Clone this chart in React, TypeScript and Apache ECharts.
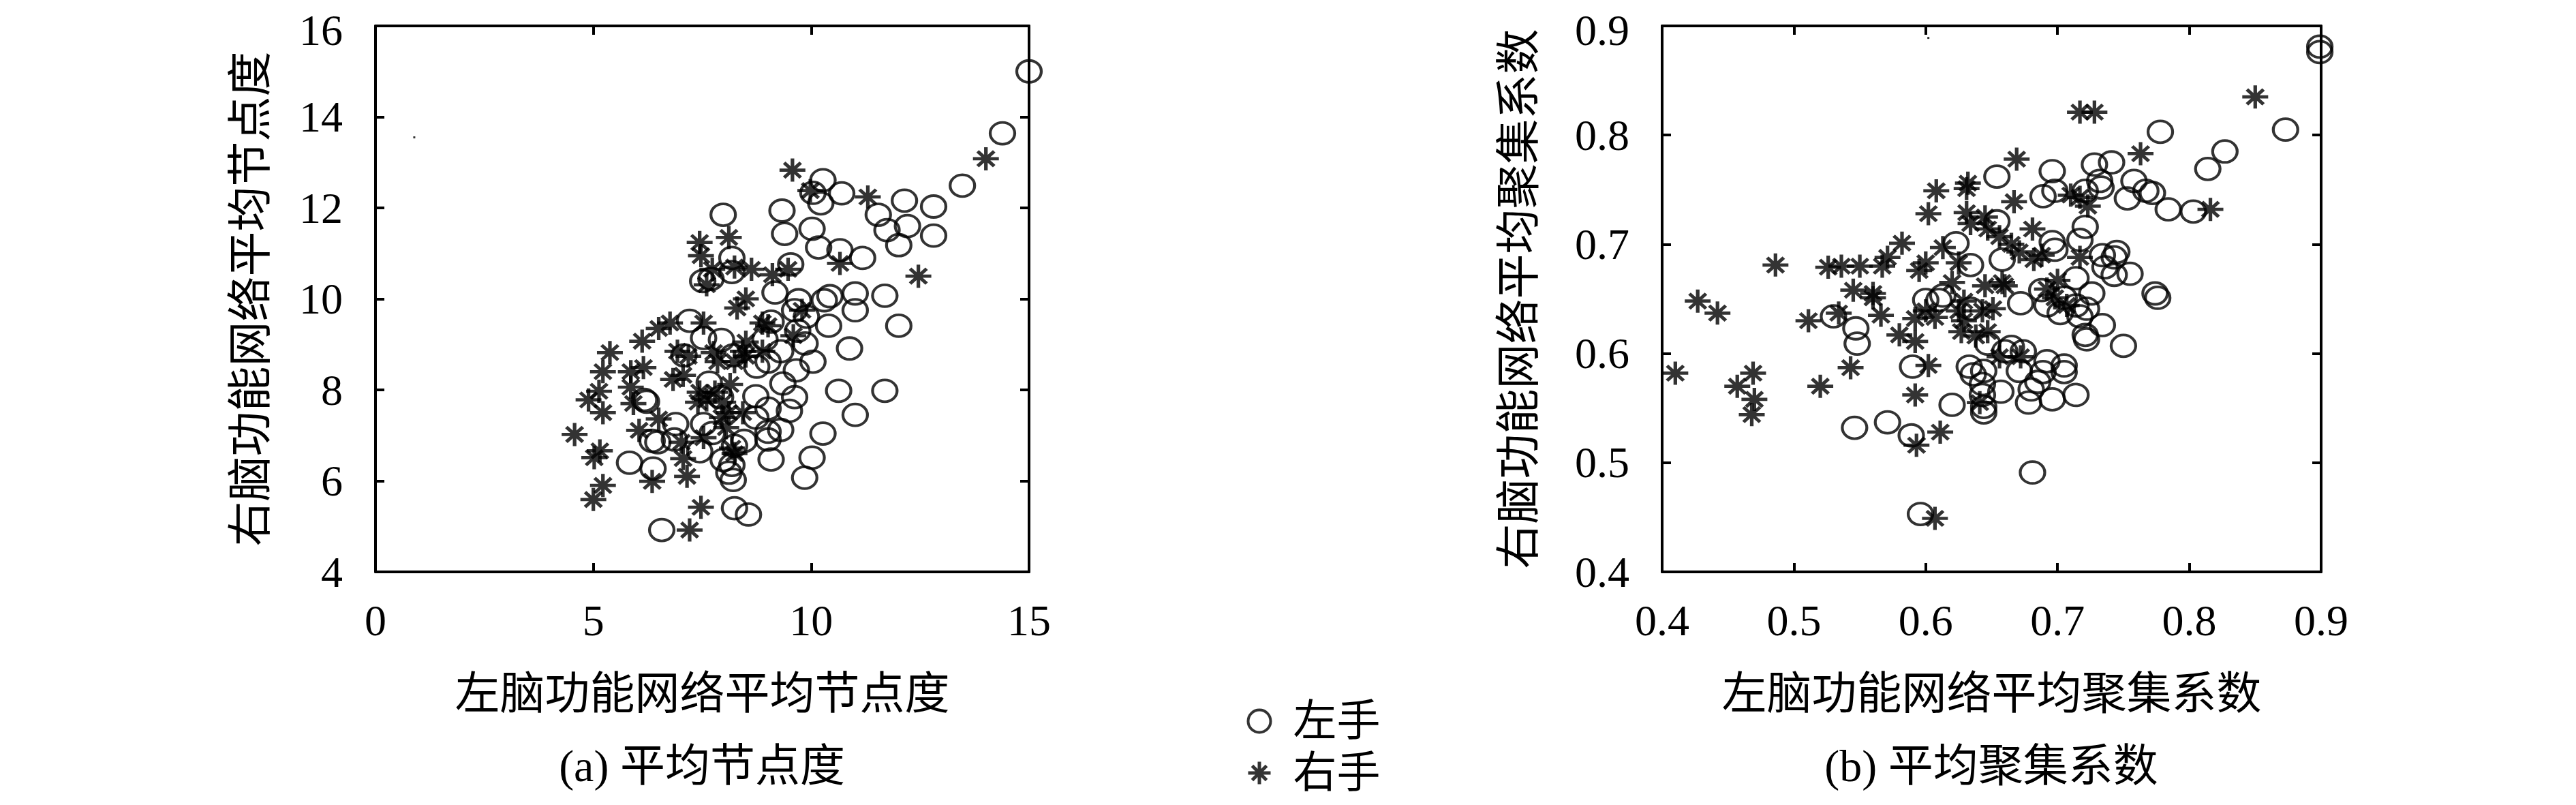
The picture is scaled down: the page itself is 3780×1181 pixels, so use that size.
import React, { useEffect, useRef } from "react";
import * as echarts from "echarts";

// ---- Data: (a) average node degree ----
const degreeLeftHand: number[][] = [
  [15.0, 15.0], [14.39, 13.64], [13.47, 12.49], [12.81, 12.03], [12.81, 11.39], [12.14, 12.16],
  [12.21, 11.6], [11.54, 11.85], [11.74, 11.51], [12.01, 11.18], [12.01, 9.41], [11.69, 10.07],
  [11.69, 7.98], [11.01, 10.12], [11.01, 9.75], [11.18, 10.9], [10.66, 11.07], [10.7, 12.32],
  [10.27, 12.61], [10.04, 12.33], [10.22, 12.1], [10.02, 11.54], [10.17, 11.13], [9.33, 11.94],
  [9.39, 11.43], [9.53, 10.76], [9.17, 10.14], [9.71, 9.97], [10.3, 9.97], [10.43, 10.06],
  [10.4, 9.41], [10.88, 8.91], [10.63, 7.98], [11.01, 7.45], [10.27, 7.04], [10.02, 6.51],
  [9.85, 6.07], [9.08, 6.47], [9.62, 9.75], [9.89, 9.61], [9.69, 9.3], [9.86, 9.02],
  [10.04, 8.62], [9.66, 8.43], [9.35, 8.14], [9.62, 7.84], [9.5, 7.54], [9.3, 7.12],
  [9.01, 7.59], [9.01, 7.08], [9.01, 6.91], [9.08, 9.5], [8.94, 9.11], [9.01, 8.62],
  [8.75, 8.51], [9.3, 8.85], [8.73, 7.86], [8.73, 7.39], [8.46, 6.88], [8.24, 6.77],
  [8.18, 6.35], [8.11, 6.18], [8.21, 6.02], [7.98, 6.46], [8.24, 5.4], [8.56, 5.26],
  [6.57, 4.92], [6.37, 6.27], [5.83, 6.4], [6.35, 6.88], [6.48, 6.85], [6.89, 7.25],
  [6.86, 6.91], [7.44, 6.65], [7.53, 7.25], [7.66, 8.16], [7.53, 9.14], [7.21, 9.52],
  [7.08, 8.76], [7.94, 9.1], [7.98, 11.85], [8.18, 10.9], [8.18, 10.59], [7.51, 10.39],
  [7.7, 10.44], [8.21, 8.76], [6.17, 7.78], [6.22, 7.74], [7.92, 7.84], [7.73, 7.05],
];
const degreeRightHand: number[][] = [
  [14.01, 13.08], [12.46, 10.5], [11.3, 12.24], [10.66, 10.78], [9.57, 12.83], [9.98, 12.38],
  [9.11, 10.53], [9.47, 10.65], [8.11, 11.35], [7.44, 11.24], [7.47, 10.95], [7.73, 10.65],
  [7.6, 10.31], [8.24, 10.7], [8.63, 10.65], [8.5, 10.0], [8.3, 9.8], [8.88, 9.47],
  [9.01, 9.41], [9.79, 9.75], [9.59, 9.19], [8.5, 9.05], [8.5, 8.74], [8.88, 8.85],
  [8.24, 8.62], [7.85, 8.62], [7.76, 8.82], [7.53, 9.47], [7.18, 8.74], [6.93, 8.85],
  [6.76, 9.47], [6.5, 9.35], [6.12, 9.07], [6.15, 8.49], [5.86, 8.4], [5.38, 8.82],
  [5.22, 8.4], [5.13, 7.97], [4.89, 7.78], [5.22, 7.5], [4.57, 7.02], [5.15, 6.66],
  [5.02, 6.51], [5.22, 5.9], [5.0, 5.59], [5.86, 8.06], [5.92, 7.7], [6.05, 7.11],
  [6.35, 5.99], [6.5, 7.36], [6.83, 8.23], [7.06, 8.32], [7.02, 6.85], [7.06, 6.49],
  [7.15, 6.1], [7.21, 4.92], [7.47, 5.42], [7.4, 7.73], [7.44, 7.95], [7.6, 7.78],
  [7.79, 7.95], [7.98, 7.73], [8.14, 8.12], [8.05, 7.17], [7.95, 7.39], [7.53, 6.95],
  [8.18, 6.72], [8.24, 6.6], [8.43, 7.5], [8.11, 7.5], [8.43, 8.85],
];
const degreeStray: number[][] = [[0.89, 13.55]];

// ---- Data: (b) average clustering coefficient ----
const clusterLeftHand: number[][] = [
  [0.899, 0.881], [0.899, 0.876], [0.873, 0.805], [0.827, 0.785], [0.814, 0.769], [0.803, 0.73],
  [0.784, 0.732], [0.778, 0.803], [0.767, 0.749], [0.772, 0.747], [0.758, 0.758], [0.753, 0.742],
  [0.741, 0.775], [0.728, 0.773], [0.732, 0.758], [0.733, 0.752], [0.721, 0.749], [0.696, 0.767],
  [0.698, 0.749], [0.689, 0.744], [0.654, 0.762], [0.654, 0.721], [0.623, 0.701], [0.634, 0.681],
  [0.658, 0.686], [0.721, 0.716], [0.717, 0.704], [0.696, 0.702], [0.698, 0.695], [0.714, 0.669],
  [0.734, 0.69], [0.745, 0.693], [0.743, 0.688], [0.736, 0.679], [0.743, 0.672], [0.755, 0.673],
  [0.774, 0.655], [0.776, 0.651], [0.726, 0.655], [0.714, 0.644], [0.705, 0.651], [0.702, 0.637],
  [0.717, 0.634], [0.722, 0.641], [0.734, 0.626], [0.721, 0.617], [0.722, 0.613], [0.75, 0.607],
  [0.705, 0.589], [0.705, 0.583], [0.692, 0.593], [0.689, 0.583], [0.685, 0.574], [0.68, 0.567],
  [0.678, 0.555], [0.696, 0.558], [0.714, 0.562], [0.671, 0.584], [0.674, 0.602], [0.665, 0.606],
  [0.66, 0.602], [0.647, 0.609], [0.672, 0.646], [0.688, 0.658], [0.692, 0.644], [0.633, 0.588],
  [0.636, 0.581], [0.644, 0.584], [0.643, 0.572], [0.643, 0.562], [0.644, 0.551], [0.644, 0.546],
  [0.657, 0.565], [0.62, 0.553], [0.589, 0.525], [0.571, 0.537], [0.546, 0.532], [0.59, 0.588],
  [0.547, 0.623], [0.548, 0.609], [0.53, 0.634], [0.6, 0.649], [0.61, 0.649], [0.613, 0.653],
  [0.681, 0.491], [0.596, 0.453], [0.634, 0.641],
];
const clusterRightHand: number[][] = [
  [0.85, 0.835], [0.816, 0.732], [0.763, 0.783], [0.717, 0.821], [0.728, 0.821], [0.669, 0.778],
  [0.667, 0.739], [0.632, 0.756], [0.631, 0.751], [0.608, 0.749], [0.602, 0.728], [0.631, 0.729],
  [0.634, 0.719], [0.645, 0.725], [0.647, 0.714], [0.656, 0.707], [0.665, 0.7], [0.671, 0.693],
  [0.681, 0.714], [0.688, 0.69], [0.682, 0.686], [0.71, 0.745], [0.717, 0.743], [0.723, 0.735],
  [0.717, 0.688], [0.7, 0.667], [0.692, 0.659], [0.698, 0.651], [0.707, 0.644], [0.613, 0.697],
  [0.625, 0.683], [0.6, 0.683], [0.595, 0.676], [0.582, 0.701], [0.571, 0.688], [0.567, 0.68],
  [0.55, 0.68], [0.536, 0.68], [0.526, 0.679], [0.545, 0.658], [0.56, 0.655], [0.56, 0.651],
  [0.566, 0.635], [0.534, 0.637], [0.511, 0.63], [0.486, 0.681], [0.427, 0.648], [0.442, 0.637],
  [0.41, 0.582], [0.457, 0.57], [0.469, 0.582], [0.47, 0.558], [0.468, 0.544], [0.52, 0.57],
  [0.543, 0.587], [0.58, 0.617], [0.592, 0.611], [0.592, 0.632], [0.6, 0.639], [0.607, 0.633],
  [0.602, 0.589], [0.592, 0.562], [0.593, 0.516], [0.611, 0.528], [0.607, 0.449], [0.625, 0.639],
  [0.629, 0.63], [0.627, 0.62], [0.638, 0.616], [0.647, 0.62], [0.643, 0.639], [0.651, 0.641],
  [0.645, 0.662], [0.658, 0.665], [0.66, 0.662], [0.629, 0.648], [0.641, 0.555], [0.656, 0.597],
  [0.672, 0.597], [0.62, 0.665],
];
const clusterStray: number[][] = [[0.602, 0.889]];

const legendNames = ["左手", "右手"];
const panelTitles = ["(a) 平均节点度", "(b) 平均聚集系数"];
const xNames = ["左脑功能网络平均节点度", "左脑功能网络平均聚集系数"];
const yNames = ["右脑功能网络平均节点度", "右脑功能网络平均聚集系数"];

const CIRCLE = "path://M0,50A50,50,0,1,1,100,50A50,50,0,1,1,0,50Z";
const STAR = "path://M0,50L100,50M50,0L50,100M18,18L82,82M82,18L18,82";

const NUM_FONT = "'Liberation Serif', 'DejaVu Serif', serif";
const CJK_FONT = "'Liberation Serif', 'Noto Sans CJK SC', sans-serif";

const GRIDS = [
  { left: 551, top: 33, width: 959, height: 806 },
  { left: 2439, top: 33, width: 967, height: 806 },
];

function makeAxes(
  g: number,
  xr: [number, number, number],
  yr: [number, number, number],
  xName: string,
  yName: string,
  yNameGap: number,
  fmt: (v: number) => string
) {
  const line = { show: true, onZero: false, lineStyle: { color: "#000", width: 4 } };
  const tick = { show: true, inside: true, length: 13, lineStyle: { color: "#000", width: 4 } };
  const lbl = { fontFamily: NUM_FONT, fontSize: 64, lineHeight: 54, color: "#000" };
  const nameStyle = { fontFamily: CJK_FONT, fontSize: 66, color: "#000" };
  const xs = [
    {
      type: "value", gridIndex: g, min: xr[0], max: xr[1], interval: xr[2], position: "bottom",
      name: xName, nameLocation: "middle", nameGap: 145, nameTextStyle: nameStyle,
      axisLine: line, axisTick: tick, axisLabel: { ...lbl, margin: 44, formatter: fmt }, splitLine: { show: false },
    },
    {
      type: "value", gridIndex: g, min: xr[0], max: xr[1], interval: xr[2], position: "top",
      axisLine: line, axisTick: tick, axisLabel: { show: false }, splitLine: { show: false },
    },
  ];
  const ys = [
    {
      type: "value", gridIndex: g, min: yr[0], max: yr[1], interval: yr[2], position: "left",
      name: yName, nameLocation: "middle", nameGap: yNameGap, nameRotate: 90, nameTextStyle: nameStyle,
      axisLine: line, axisTick: tick,
      axisLabel: {
        ...lbl,
        margin: 48,
        formatter: (v: number) => (Math.abs(v - yr[1]) < 1e-9 ? `{top|${fmt(v)}}` : fmt(v)),
        rich: { top: { ...lbl, padding: [12, 0, 0, 0] } },
      },
      splitLine: { show: false },
    },
    {
      type: "value", gridIndex: g, min: yr[0], max: yr[1], interval: yr[2], position: "right",
      axisLine: line, axisTick: tick, axisLabel: { show: false }, splitLine: { show: false },
    },
  ];
  return { xs, ys };
}

export default function App() {
  const ref = useRef<HTMLDivElement>(null);
  useEffect(() => {
    if (!ref.current) return;
    const chart = echarts.init(ref.current, undefined, { renderer: "svg" });
    const a = makeAxes(0, [0, 15, 5], [4, 16, 2], xNames[0], yNames[0], 151, (v) => String(v));
    const b = makeAxes(1, [0.4, 0.9, 0.1], [0.4, 0.9, 0.1], xNames[1], yNames[1], 178, (v) => v.toFixed(1));
    const circleStyle = { color: "transparent", borderColor: "#000", borderWidth: 4 };
    const starStyle = { color: "transparent", borderColor: "#000", borderWidth: 5 };
    const circleSeries = (name: string, xi: number, yi: number, data: number[][]) => ({
      type: "scatter", name, xAxisIndex: xi, yAxisIndex: yi, data,
      symbol: CIRCLE, symbolSize: [36, 32], itemStyle: circleStyle, silent: true,
    });
    const starSeries = (name: string, xi: number, yi: number, data: number[][]) => ({
      type: "scatter", name, xAxisIndex: xi, yAxisIndex: yi, data,
      symbol: STAR, symbolSize: [38, 34], itemStyle: starStyle, silent: true,
    });
    const straySeries = (xi: number, yi: number, data: number[][]) => ({
      type: "scatter", name: "stray", xAxisIndex: xi, yAxisIndex: yi, data,
      symbol: "rect", symbolSize: 3, itemStyle: { color: "#000" }, silent: true,
    });
    chart.setOption({
      animation: false,
      backgroundColor: "#fff",
      grid: GRIDS.map((g) => ({ ...g, show: false })),
      xAxis: [...a.xs, ...b.xs],
      yAxis: [...a.ys, ...b.ys],
      legend: {
        orient: "vertical",
        left: 1824,
        top: 1021,
        itemWidth: 37,
        itemHeight: 33,
        itemGap: 12,
        data: [
          { name: legendNames[0], icon: CIRCLE, itemStyle: circleStyle },
          { name: legendNames[1], icon: STAR, itemStyle: starStyle },
        ],
        textStyle: { fontFamily: CJK_FONT, fontSize: 64, color: "#000", padding: [0, 0, 0, 26] },
        selectedMode: false,
      },
      graphic: [
        {
          type: "text", x: 1030, y: 1123,
          style: { text: panelTitles[0], font: `66px ${CJK_FONT}`, fill: "#000", textAlign: "center", textVerticalAlign: "middle" },
        },
        {
          type: "text", x: 2922, y: 1123,
          style: { text: panelTitles[1], font: `66px ${CJK_FONT}`, fill: "#000", textAlign: "center", textVerticalAlign: "middle" },
        },
      ],
      series: [
        circleSeries(legendNames[0], 0, 0, degreeLeftHand),
        starSeries(legendNames[1], 0, 0, degreeRightHand),
        straySeries(0, 0, degreeStray),
        circleSeries(legendNames[0], 2, 2, clusterLeftHand),
        starSeries(legendNames[1], 2, 2, clusterRightHand),
        straySeries(2, 2, clusterStray),
      ],
    });
    return () => chart.dispose();
  }, []);
  return (
    <div
      ref={ref}
      style={{ position: "absolute", left: 0, top: 0, width: 3780, height: 1181, background: "#fff" }}
    />
  );
}
